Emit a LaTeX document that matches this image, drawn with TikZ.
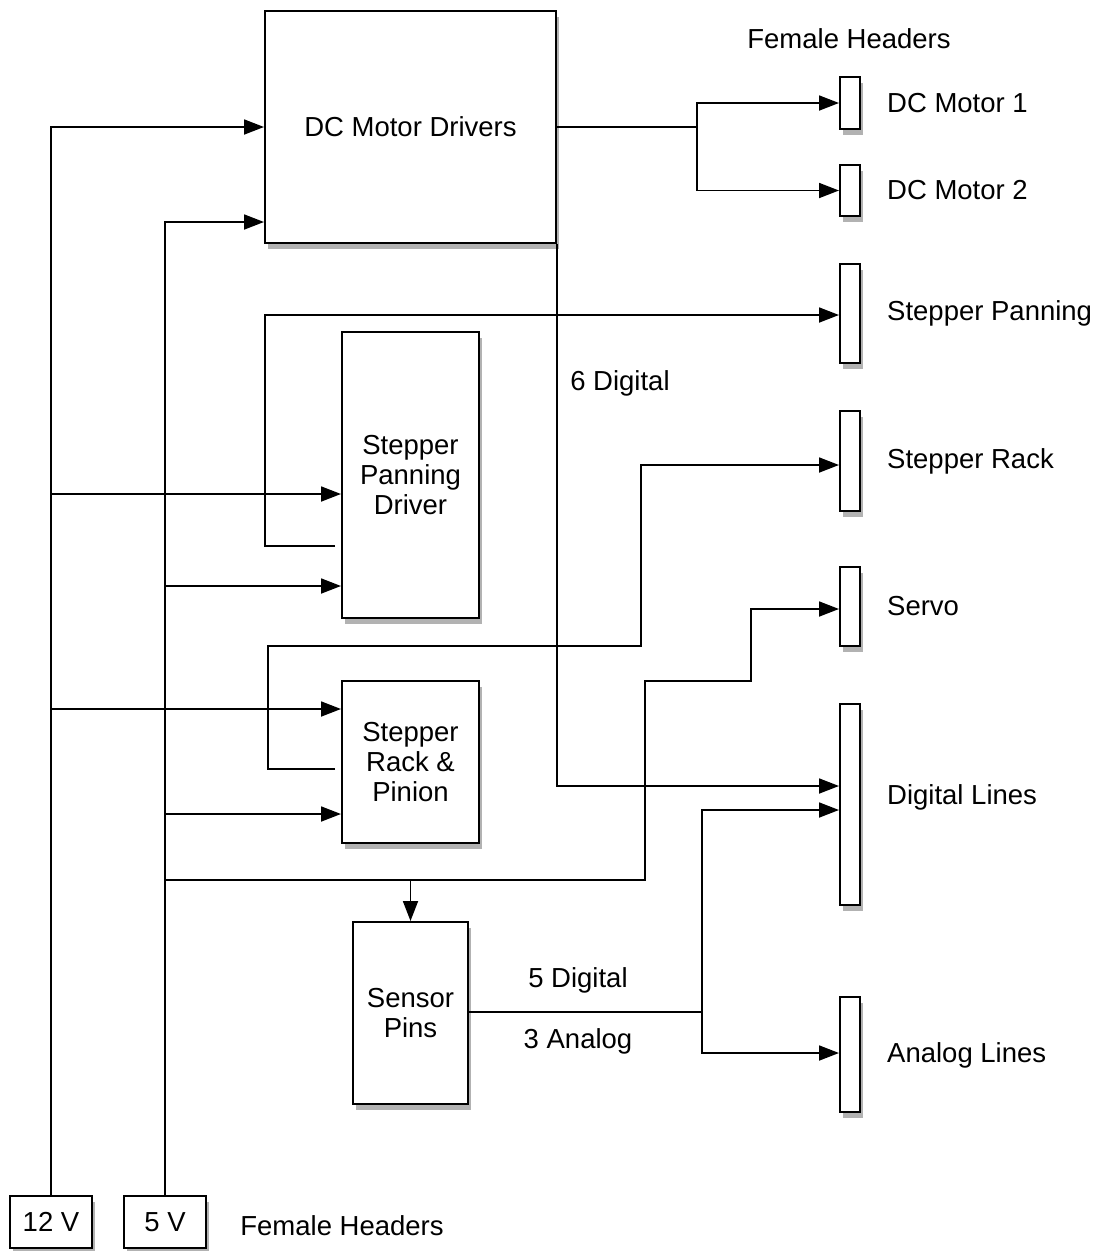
\documentclass[tikz,border=0pt]{standalone}
\usepackage{fontspec}
\setmainfont{Liberation Sans}
\usetikzlibrary{arrows.meta,shadows,calc}
\begin{document}
\begin{tikzpicture}[x=1pt,y=-1pt,
  font=\fontsize{27.5}{30}\selectfont,
  shd/.style={drop shadow={shadow xshift=3pt,shadow yshift=-6pt,opacity=0.3,fill=black}},
  blk/.style={draw,line width=2pt,fill=white,shd,align=center,inner sep=0pt},
  hdr/.style={draw,line width=2pt,fill=white,shd,minimum width=20pt,inner sep=0pt},
  conn/.style={line width=1.8pt},
  arr/.style={conn,-{Triangle[length=20pt,width=15pt]}},
  lbl/.style={anchor=west,inner sep=0pt}]
\useasboundingbox (0,0) rectangle (1103,1251);
% blocks
\node[blk,minimum width=291pt,minimum height=232pt] (dc) at (410.5,127) {DC Motor Drivers};
\node[blk,minimum width=137pt,minimum height=286pt] (spd) at (410.5,475) {Stepper\\Panning\\Driver};
\node[blk,minimum width=137pt,minimum height=162pt] (srp) at (410.5,762) {Stepper\\Rack \&\\Pinion};
\node[blk,minimum width=115pt,minimum height=182pt] (sen) at (410.5,1013) {Sensor\\Pins};
\node[blk,minimum width=82pt,minimum height=52pt] (v12) at (51,1222) {12 V};
\node[blk,minimum width=82pt,minimum height=52pt] (v5) at (165,1222) {5 V};
% headers
\node[hdr,minimum height=52pt] (h1) at (850,103) {};
\node[hdr,minimum height=51pt] (h2) at (850,190.5) {};
\node[hdr,minimum height=99pt] (h3) at (850,313.5) {};
\node[hdr,minimum height=100pt] (h4) at (850,461) {};
\node[hdr,minimum height=79pt] (h5) at (850,606.5) {};
\node[hdr,minimum height=201pt] (h6) at (850,804.5) {};
\node[hdr,minimum height=115pt] (h7) at (850,1054.5) {};
% header labels
\node[lbl] (l1) at (887,103) {DC Motor 1};
\node[lbl] (l2) at (887,190) {DC Motor 2};
\node[lbl] (l3) at (887,313) {Stepper Panning};
\node[lbl] (l4) at (887,461) {Stepper Rack};
\node[lbl] (l5) at (887,606) {Servo};
\node[lbl] (l6) at (887,797) {Digital Lines};
\node[lbl] (l7) at (887,1055) {Analog Lines};
\node (fh1) at (849,39) {Female Headers};
\node (fh2) at (342,1226) {Female Headers};
\node (t6d) at (620,383) {6 Digital};
\node (t5d) at (578,980) {5 Digital};
\node (t3a) at (578,1041) {3 Analog};
% junction coordinates
\coordinate (j12a) at (51,494);
\coordinate (j12b) at (51,709);
\coordinate (j5a) at (165,586);
\coordinate (j5b) at (165,814);
\coordinate (j5c) at (165,880);
\coordinate (jdc) at (697,127);
\coordinate (spdout) at (335,546);
\coordinate (srpout) at (335,769);
\coordinate (jsen) at (702,1012);
% 12 V
\draw[arr] (v12.north) |- (dc.west);
\draw[arr] (j12a) -- (spd.west |- j12a);
\draw[arr] (j12b) -- (srp.west |- j12b);
% 5 V
\draw[arr] (v5.north) |- (dc.west |- 0,222);
\draw[arr] (j5a) -- (spd.west |- j5a);
\draw[arr] (j5b) -- (srp.west |- j5b);
\draw[arr] (j5c) -- (645,880) -- (645,681) -- (751,681) |- (h5.west |- 0,609);
\draw[arr] (sen.north |- j5c) -- (sen.north);
% DC motor outputs
\draw[conn] (dc.east) -- (jdc);
\draw[arr] (jdc) |- (h1.west);
\draw[arr] (jdc) |- (h2.west);
\draw[arr] (dc.south east) |- (h6.west |- 0,786);
% stepper outputs
\draw[arr] (spdout) -- (265,546) |- (h3.west |- 0,315);
\draw[arr] (srpout) -- (268,769) -- (268,646) -- (641,646) |- (h4.west |- 0,465);
% sensor outputs
\draw[conn] (sen.east |- jsen) -- (jsen);
\draw[arr] (jsen) |- (h6.west |- 0,810);
\draw[arr] (jsen) |- (h7.west |- 0,1053);
\end{tikzpicture}
\end{document}
